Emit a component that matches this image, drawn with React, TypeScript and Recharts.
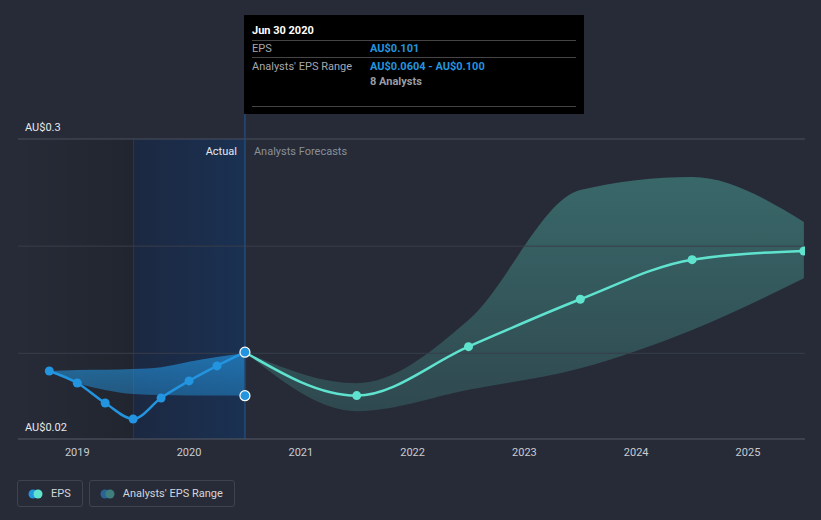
import {
  ComposedChart,
  Line,
  Area,
  XAxis,
  YAxis,
  ReferenceLine,
  ReferenceArea,
} from "recharts";

// quarter ends as decimal years
const ACTUAL_X = [2018.75, 2019, 2019.25, 2019.5, 2019.75, 2020, 2020.25, 2020.5];
const EPS_ACTUAL = [0.0835, 0.0723, 0.0536, 0.0387, 0.0583, 0.0742, 0.0882, 0.101];
const RANGE_LOW_ACTUAL = [0.0835, 0.0723, 0.0658, 0.062, 0.061, 0.0607, 0.0605, 0.0604];
const RANGE_HIGH_ACTUAL = [0.0835, 0.0844, 0.0846, 0.0854, 0.087, 0.092, 0.0966, 0.1];

const FORECAST_X = [2021.5, 2022.5, 2023.5, 2024.5, 2025.5];
const EPS_FORECAST = [0.0605, 0.1062, 0.1504, 0.1874, 0.1955];
const RANGE_LOW_FORECAST = [0.046, 0.066, 0.086, 0.1218, 0.17];
const RANGE_HIGH_FORECAST = [0.072, 0.131, 0.2525, 0.2646, 0.2226];

const YEAR_TICKS = [2019, 2020, 2021, 2022, 2023, 2024, 2025];
const Y_LABELS = [
  { value: 0.3, text: "AU$0.3" },
  { value: 0.02, text: "AU$0.02" },
];

const SPLIT = 2020.5;
const BG = "#262b37";
const BLUE = "#2394df";
const TEAL = "#5fe3cf";
const FONT = "Roboto, 'Noto Sans', sans-serif";

type Row = {
  x: number;
  eps?: number;
  actualRange?: [number, number];
  epsF?: number;
  forecastRange?: [number, number];
  lowMarker?: number;
};

const rows: Row[] = ACTUAL_X.map((x, i) => ({
  x,
  eps: EPS_ACTUAL[i],
  actualRange: [RANGE_LOW_ACTUAL[i], RANGE_HIGH_ACTUAL[i]] as [number, number],
}));
const last = rows[rows.length - 1];
last.epsF = last.eps;
last.forecastRange = [last.eps as number, last.eps as number];
last.lowMarker = RANGE_LOW_ACTUAL[RANGE_LOW_ACTUAL.length - 1];
FORECAST_X.forEach((x, i) =>
  rows.push({
    x,
    epsF: EPS_FORECAST[i],
    forecastRange: [RANGE_LOW_FORECAST[i], RANGE_HIGH_FORECAST[i]],
  })
);

const actualDot = (p: any) => {
  const isLast = p.index === ACTUAL_X.length - 1;
  if (p.cy == null) return <g key={p.key} />;
  return isLast ? (
    <circle key={p.key} cx={p.cx} cy={p.cy} r={5} fill={BLUE} stroke="#fff" strokeWidth={1.2} />
  ) : (
    <circle key={p.key} cx={p.cx} cy={p.cy} r={4.5} fill={BLUE} />
  );
};

const forecastDot = (p: any) => {
  if (p.cy == null || p.payload.x === SPLIT) return <g key={p.key} />;
  return <circle key={p.key} cx={p.cx} cy={p.cy} r={4.5} fill={TEAL} />;
};

const lowDot = (p: any) => {
  if (p.cy == null) return <g key={p.key} />;
  return <circle key={p.key} cx={p.cx} cy={p.cy} r={5} fill={BLUE} stroke="#fff" strokeWidth={1.2} />;
};

const yLabel = (text: string) => (props: any) => {
  const { viewBox } = props;
  return (
    <text x={viewBox.x + 7} y={viewBox.y - 8} fill="#e6e8eb" fontSize={11} fontFamily={FONT}>
      {text}
    </text>
  );
};

const splitLabel = (props: any) => {
  const { viewBox } = props;
  const y = viewBox.y + 41;
  return (
    <g fontSize={11} fontFamily={FONT}>
      <text x={viewBox.x - 8} y={y} textAnchor="end" fill="#e6e8eb">
        Actual
      </text>
      <text x={viewBox.x + 9} y={y} fill="#8a8f98">
        Analysts Forecasts
      </text>
    </g>
  );
};

function LegendItem({ label, colors }: { label: string; colors: [string, string] }) {
  return (
    <div
      style={{
        display: "flex",
        alignItems: "center",
        height: 27,
        padding: "0 11px 0 10px",
        border: "1px solid #3d434f",
        borderRadius: 3,
        boxSizing: "border-box",
        marginRight: 6,
      }}
    >
      <svg width={15} height={10} style={{ marginRight: 8 }}>
        <circle cx={5} cy={5} r={4.5} fill={colors[0]} />
        <circle cx={10} cy={5} r={4.5} fill={colors[1]} />
      </svg>
      <span style={{ color: "#d3d6db", fontSize: 11 }}>{label}</span>
    </div>
  );
}

export default function App() {
  return (
    <div
      style={{
        position: "fixed",
        left: 0,
        top: 0,
        width: 821,
        height: 520,
        background: BG,
        fontFamily: FONT,
        overflow: "hidden",
      }}
    >
      <ComposedChart
        width={821}
        height={520}
        data={rows}
        margin={{ top: 114, right: 16, left: 18, bottom: 51 }}
      >
        <defs>
          <linearGradient id="pastShade" x1="0" y1="0" x2="1" y2="0">
            <stop offset="0%" stopColor="#000" stopOpacity={0} />
            <stop offset="100%" stopColor="#000" stopOpacity={0.14} />
          </linearGradient>
          <linearGradient id="hoverShade" x1="0" y1="0" x2="1" y2="0">
            <stop offset="0%" stopColor="#1c2841" />
            <stop offset="100%" stopColor="#1a3152" />
          </linearGradient>
          <linearGradient id="actualFill" x1="0" y1="0" x2="0" y2="1">
            <stop offset="0%" stopColor={BLUE} stopOpacity={0.65} />
            <stop offset="100%" stopColor={BLUE} stopOpacity={0.45} />
          </linearGradient>
          <linearGradient id="forecastFill" x1="0" y1="0" x2="0" y2="1">
            <stop offset="0%" stopColor={TEAL} stopOpacity={0.33} />
            <stop offset="100%" stopColor={TEAL} stopOpacity={0.16} />
          </linearGradient>
        </defs>
        <XAxis
          dataKey="x"
          type="number"
          domain={[2018.47, 2025.51]}
          ticks={YEAR_TICKS}
          tickFormatter={(v) => String(v)}
          allowDataOverflow
          height={30}
          tickLine={false}
          tickSize={0}
          tickMargin={9}
          axisLine={{ stroke: "#555b66" }}
          tick={{ fill: "#c9ccd1", fontSize: 11, fontFamily: FONT }}
        />
        <YAxis hide type="number" domain={[0.02, 0.32333]} allowDataOverflow />

        <ReferenceArea x1={2018.47} x2={2019.5} y1={0.02} y2={0.3} fill="url(#pastShade)" fillOpacity={1} stroke="none" />
        <ReferenceArea x1={2019.5} x2={SPLIT} y1={0.02} y2={0.3} fill="url(#hoverShade)" fillOpacity={1} stroke="none" />
        <ReferenceArea x1={2019.5} x2={2019.508} y1={0.02} y2={0.3} fill="#243a5c" fillOpacity={1} stroke="none" />

        <ReferenceLine y={0.3} stroke="#4b515d" label={yLabel(Y_LABELS[0].text)} />
        <ReferenceLine y={0.2} stroke="#383e4a" />
        <ReferenceLine y={0.1} stroke="#383e4a" />
        <ReferenceLine y={0.02} stroke="none" label={yLabel(Y_LABELS[1].text)} />
        <ReferenceLine x={SPLIT} stroke="#254a78" strokeWidth={1.5} label={splitLabel} />

        <Area
          dataKey="forecastRange"
          type="monotone"
          stroke="none"
          fill="url(#forecastFill)"
          fillOpacity={1}
          isAnimationActive={false}
          activeDot={false}
        />
        <Area
          dataKey="actualRange"
          type="monotone"
          stroke="none"
          fill="url(#actualFill)"
          fillOpacity={1}
          isAnimationActive={false}
          activeDot={false}
        />
        <Line
          dataKey="epsF"
          type="monotone"
          stroke={TEAL}
          strokeWidth={2.5}
          dot={forecastDot}
          activeDot={false}
          isAnimationActive={false}
        />
        <Line
          dataKey="eps"
          type="monotone"
          stroke={BLUE}
          strokeWidth={2.5}
          dot={actualDot}
          activeDot={false}
          isAnimationActive={false}
        />
        <Line
          dataKey="lowMarker"
          stroke="none"
          dot={lowDot}
          activeDot={false}
          isAnimationActive={false}
        />
      </ComposedChart>

      {/* tooltip for the hovered point */}
      <div
        style={{
          position: "absolute",
          left: 244,
          top: 15,
          width: 340,
          height: 99,
          background: "#000",
          boxSizing: "border-box",
          padding: "0 8px",
          fontSize: 11,
        }}
      >
        <div style={{ color: "#fff", fontWeight: 700, height: 25, lineHeight: "31px", borderBottom: "1px solid #454545" }}>
          Jun 30 2020
        </div>
        <div style={{ display: "flex", height: 16, lineHeight: "15px", borderBottom: "1px solid #454545" }}>
          <span style={{ color: "#a5a8ad", width: 118 }}>EPS</span>
          <span style={{ color: BLUE, fontWeight: 700 }}>AU$0.101</span>
        </div>
        <div style={{ display: "flex", lineHeight: "15px", marginTop: 1 }}>
          <span style={{ color: "#a5a8ad", width: 118 }}>Analysts' EPS Range</span>
          <span style={{ color: BLUE, fontWeight: 700 }}>AU$0.0604 - AU$0.100</span>
        </div>
        <div style={{ display: "flex", lineHeight: "15px", height: 32, borderBottom: "1px solid #454545" }}>
          <span style={{ width: 118 }} />
          <span style={{ color: "#9a9da2", fontWeight: 700 }}>8 Analysts</span>
        </div>
      </div>

      <div style={{ position: "absolute", left: 17, top: 480, display: "flex" }}>
        <LegendItem label="EPS" colors={[BLUE, TEAL]} />
        <LegendItem label="Analysts' EPS Range" colors={["#2a6496", "#3e7f7e"]} />
      </div>
    </div>
  );
}
